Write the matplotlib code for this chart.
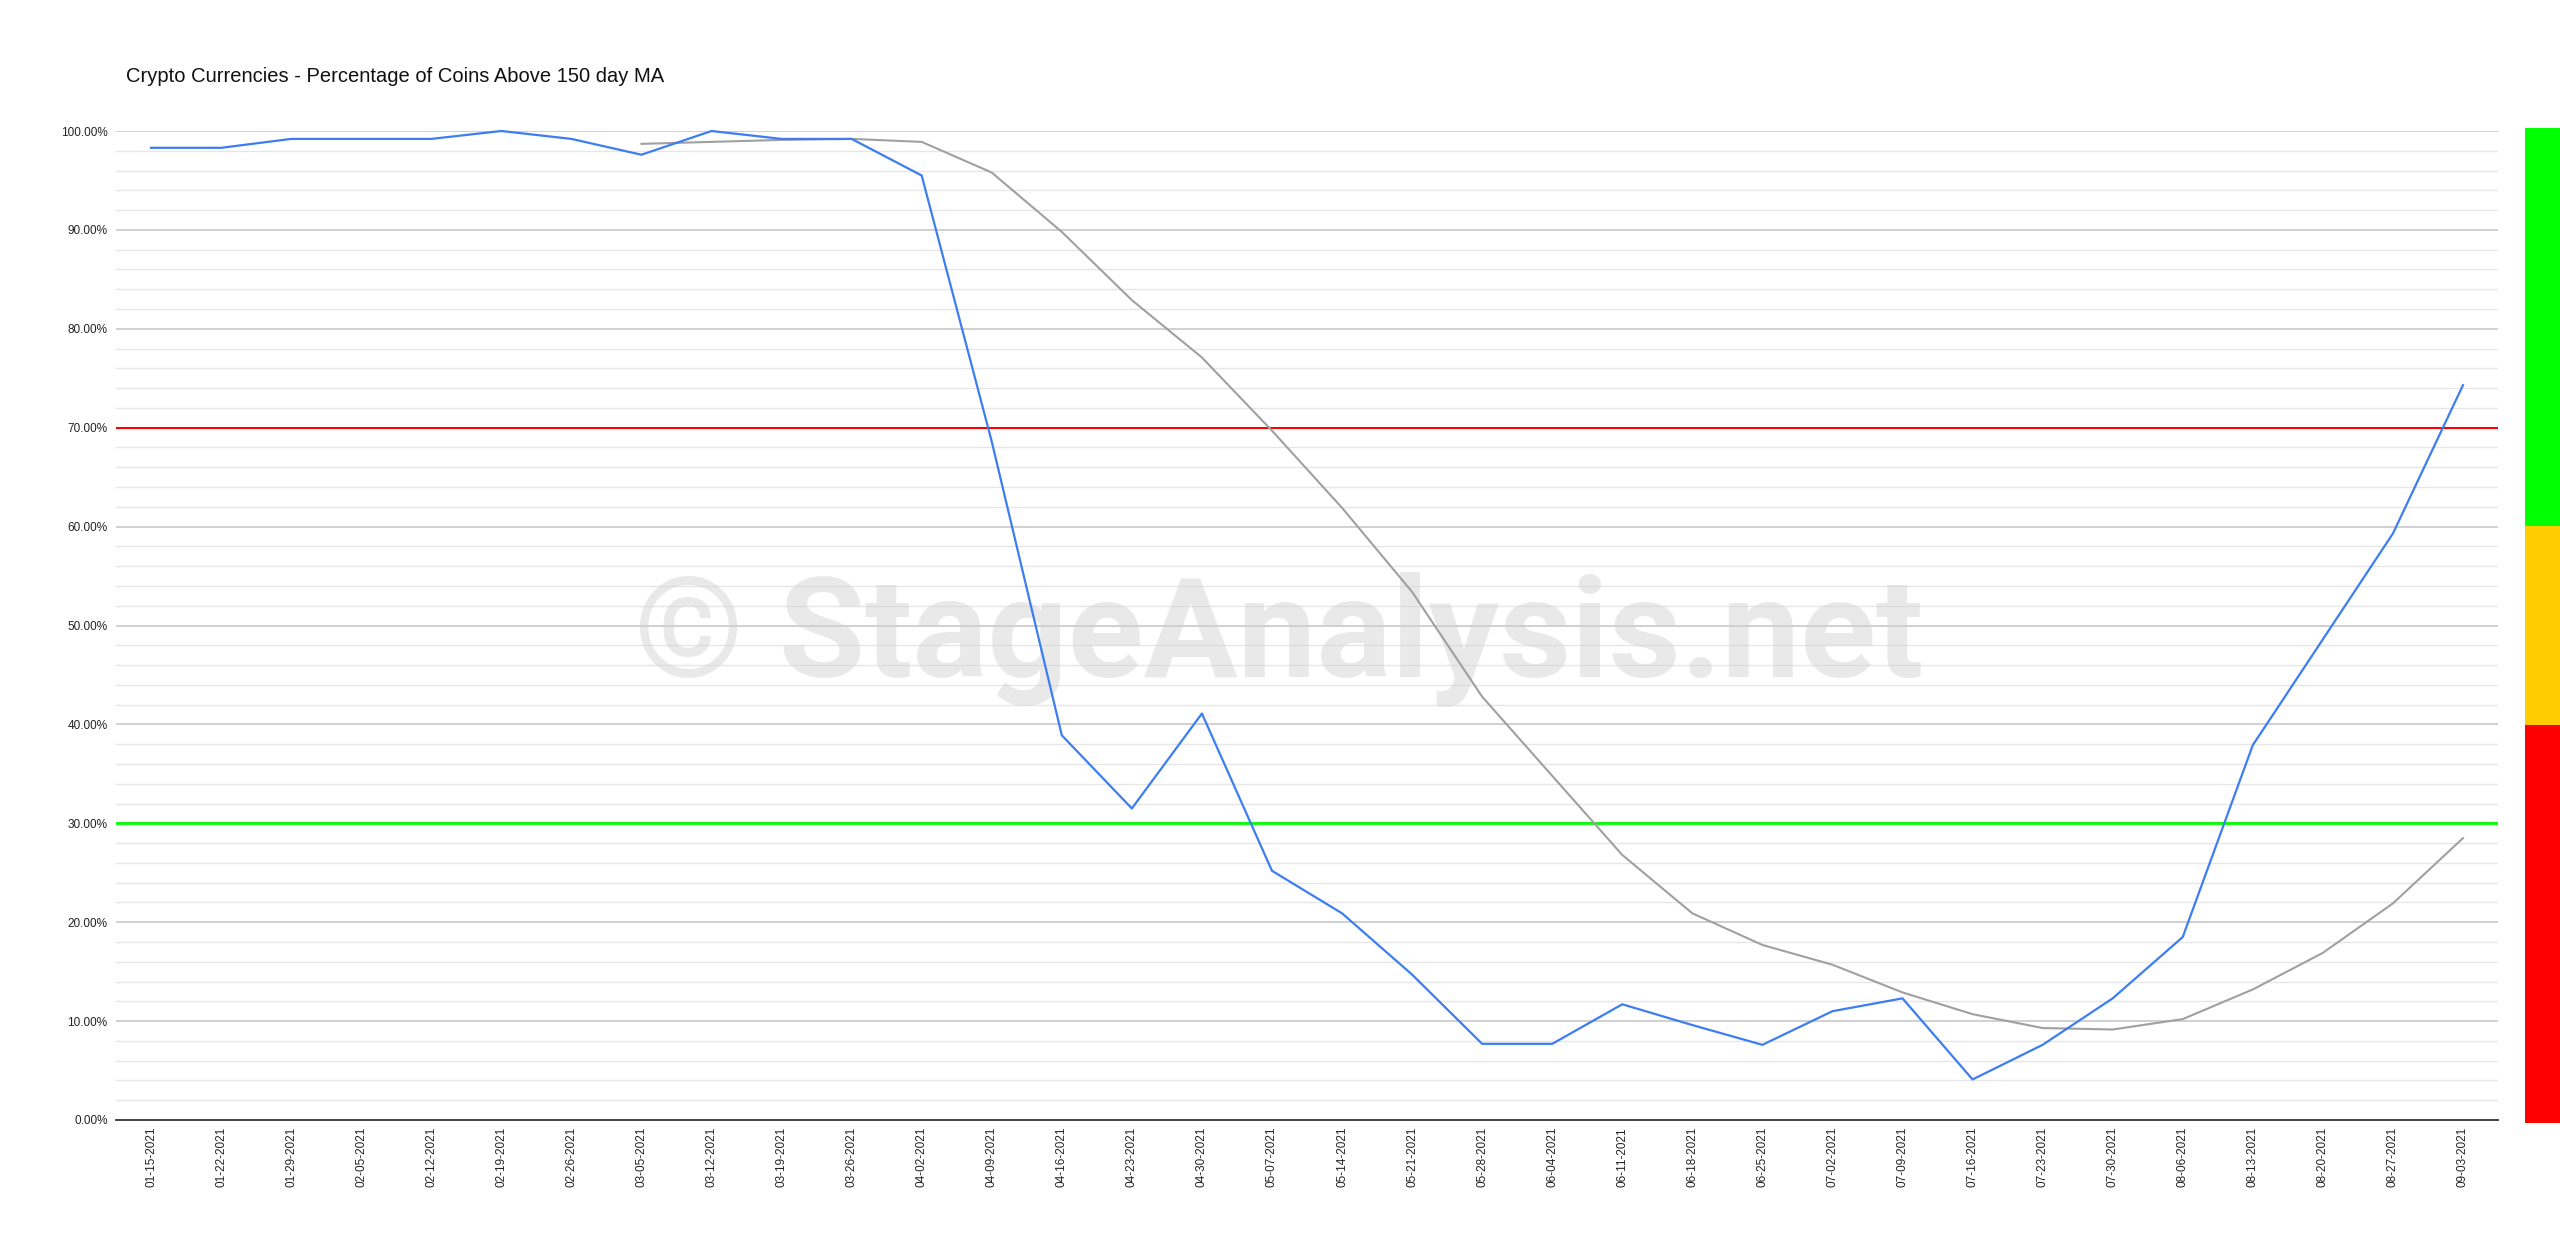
import numpy as np
import matplotlib
matplotlib.use("Agg")
import matplotlib.pyplot as plt
from matplotlib.ticker import MultipleLocator

# week labels
dates = ["01-15-2021", "01-22-2021", "01-29-2021", "02-05-2021", "02-12-2021", "02-19-2021",
         "02-26-2021", "03-05-2021", "03-12-2021", "03-19-2021", "03-26-2021", "04-02-2021",
         "04-09-2021", "04-16-2021", "04-23-2021", "04-30-2021", "05-07-2021", "05-14-2021",
         "05-21-2021", "05-28-2021", "06-04-2021", "06-11-2021", "06-18-2021", "06-25-2021",
         "07-02-2021", "07-09-2021", "07-16-2021", "07-23-2021", "07-30-2021", "08-06-2021",
         "08-13-2021", "08-20-2021", "08-27-2021", "09-03-2021"]

# % of coins above the 150 day MA
pct_above = [98.3, 98.3, 99.2, 99.2, 99.2, 100.0, 99.2, 97.6, 100.0, 99.2, 99.2, 95.5,
             68.6, 38.9, 31.5, 41.1, 25.2, 20.9, 14.7, 7.7, 7.7, 11.7, 9.6, 7.6,
             11.0, 12.3, 4.1, 7.6, 12.3, 18.5, 37.9, 48.6, 59.3, 74.3]

# moving average of the above (starts at 03-05)
pct_ma = [np.nan] * 7 + [98.7, 98.9, 99.1, 99.2, 98.9, 95.8, 89.8, 82.9, 77.1, 69.7,
                          61.9, 53.4, 42.8, 34.8, 26.8, 20.9, 17.7, 15.7, 12.9, 10.7,
                          9.3, 9.15, 10.2, 13.2, 16.9, 21.9, 28.5]

upper_level = 70
lower_level = 30

# colour zones of the side bar
zone_bounds = [0, 40, 60, 100]
zone_colors = ["#ff0000", "#ffcc00", "#00ff00"]

plt.rcParams['font.family'] = ['Liberation Sans', 'DejaVu Sans']

fig = plt.figure(figsize=(25.6, 12.5), dpi=100)
W, H = 2560, 1250
ax = fig.add_axes([116 / W, 1 - 1120 / H, (2498 - 116) / W, (1120 - 131) / H])

x = np.arange(len(dates))

ax.set_xlim(-0.5, len(dates) - 0.5)
ax.set_ylim(0, 100)

# grid
ax.yaxis.set_major_locator(MultipleLocator(10))
ax.yaxis.set_minor_locator(MultipleLocator(2))
ax.grid(which='major', axis='y', color='#c8c8c8', linewidth=1.2, zorder=0)
ax.grid(which='minor', axis='y', color='#e6e6e6', linewidth=1.0, zorder=0)
ax.set_axisbelow(True)

ax.set_yticks(np.arange(0, 101, 10))
ax.set_yticklabels([f"{v:.2f}%" for v in range(0, 101, 10)], fontsize=8.5, color='#222222')
ax.set_xticks(x)
ax.set_xticklabels(dates, rotation=90, fontsize=8.5, color='#222222')
ax.tick_params(axis='y', which='both', length=0, pad=6)
ax.tick_params(axis='x', which='both', length=0, pad=5)

for s in ['top', 'right', 'left']:
    ax.spines[s].set_visible(False)
ax.spines['bottom'].set_color('#444444')
ax.spines['bottom'].set_linewidth(1.4)
ax.spines['bottom'].set_zorder(6)

# watermark
ax.text(0.488, 0.486, "\u00a9 StageAnalysis.net", transform=ax.transAxes, ha='center', va='center',
        fontsize=101, family=['Roboto', 'DejaVu Sans'], fontweight='bold',
        color='#d0d0d0', alpha=0.45, zorder=1)

ax.axhline(upper_level, color='#ff0000', linewidth=1.5, zorder=3)
ax.axhline(lower_level, color='#00ff00', linewidth=2.0, zorder=3)

ax.plot(x, pct_ma, color='#a0a0a0', linewidth=1.5, zorder=4, clip_on=False)
ax.plot(x, pct_above, color='#3c7ef2', linewidth=1.6, zorder=5, clip_on=False)

fig.text(126 / W, 1 - 82 / H, "Crypto Currencies - Percentage of Coins Above 150 day MA",
         fontsize=14.5, color='#111111', ha='left', va='baseline')

# side colour bar
bax = fig.add_axes([2525 / W, 1 - 1123 / H, 35 / W, (1123 - 128) / H])
for lo, hi, c in zip(zone_bounds[:-1], zone_bounds[1:], zone_colors):
    bax.bar(0, hi - lo, bottom=lo, width=1, color=c, linewidth=0)
bax.set_xlim(-0.5, 0.5)
bax.set_ylim(0, 100)
bax.axis('off')

fig.savefig("out.png", dpi=100)
